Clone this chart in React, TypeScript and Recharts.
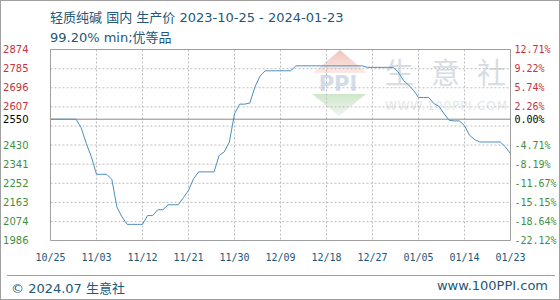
import React from "react";
import {
  LineChart,
  Line,
  XAxis,
  YAxis,
  CartesianGrid,
  ReferenceLine,
} from "recharts";

// daily producer price, 2023-10-25 .. 2024-01-23
const prices = [
  2550, 2550, 2550, 2550, 2550, 2550,
  2510, 2437, 2375, 2294, 2294, 2294,
  2270, 2141, 2095, 2061, 2061, 2061, 2061,
  2102, 2102, 2129, 2129, 2152, 2152, 2152,
  2185, 2219, 2274, 2305, 2305, 2305, 2305,
  2382, 2398, 2444, 2575, 2620, 2620, 2625,
  2700, 2750, 2775, 2775, 2775, 2775, 2775, 2775,
  2798, 2798, 2798, 2798, 2798, 2798, 2798, 2798, 2798, 2798, 2798, 2798, 2798, 2798,
  2791, 2791, 2791, 2791, 2791, 2791,
  2771, 2732, 2710, 2685, 2651, 2651, 2651,
  2623, 2610, 2575, 2545, 2542, 2542,
  2520, 2475, 2455, 2444, 2444, 2444, 2444, 2444,
  2421, 2390,
];

const xTickDays = [0, 9, 18, 27, 36, 45, 54, 63, 72, 81, 90];
const xTickLabels = ["10/25", "11/03", "11/12", "11/21", "11/30", "12/09", "12/18", "12/27", "01/05", "01/14", "01/23"];

const baseValue = 2550;
const leftTicks = [1986, 2074, 2163, 2252, 2341, 2430, 2550, 2607, 2696, 2785, 2874];
const rightLabels = ["-22.12%", "-18.64%", "-15.15%", "-11.67%", "-8.19%", "-4.71%", "0.00%", "2.26%", "5.74%", "9.22%", "12.71%"];
const gridValues = [2074, 2163, 2252, 2341, 2430, 2518, 2607, 2696, 2785];

const data = prices.map((price, day) => ({ day, price }));

const RED = "#c8323c";
const GREEN = "#3f8f3f";
const BLUE_TEXT = "#22577a";
const BORDER = "#a0a0a0";
const GRID = "#bdbdbd";
const PLOT_W = 460;

const tickColor = (v: number) => (v > baseValue ? RED : v < baseValue ? GREEN : "#000");

// left tick also draws the matching percent label on the right side of the plot
function DualTick(props: any) {
  const { x, y, payload } = props;
  const i = leftTicks.indexOf(payload.value);
  const fill = tickColor(payload.value);
  return (
    <g>
      <text x={x} y={y} textAnchor="end" dominantBaseline="central" fill={fill} fontSize={10} fontFamily="DejaVu Sans">
        {payload.value}
      </text>
      <text x={x + 22 + PLOT_W + 4} y={y} textAnchor="start" dominantBaseline="central" fill={fill} fontSize={10} fontFamily="DejaVu Sans Mono">
        {rightLabels[i]}
      </text>
    </g>
  );
}

function XTick(props: any) {
  const { x, y, payload } = props;
  const i = xTickDays.indexOf(payload.value);
  return (
    <text x={x} y={y + 7} textAnchor="middle" dominantBaseline="central" fill={BLUE_TEXT} fontSize={10} fontFamily="DejaVu Sans Mono">
      {xTickLabels[i]}
    </text>
  );
}

const textFont = '"DejaVu Sans", "Noto Sans CJK SC", sans-serif';

export default function App() {
  return (
    <div
      style={{
        position: "relative",
        width: 560,
        height: 300,
        boxSizing: "border-box",
        border: `1px solid ${BORDER}`,
        background: "#fff",
        fontFamily: textFont,
        overflow: "hidden",
      }}
    >
      <style>{"body{margin:0}"}</style>

      {/* watermark */}
      <svg width={560} height={300} style={{ position: "absolute", left: -1, top: -1 }}>
        <defs>
          <linearGradient id="roof" x1="0" y1="0" x2="0" y2="1">
            <stop offset="0" stopColor="#f2c4bc" />
            <stop offset="1" stopColor="#fbe9e5" />
          </linearGradient>
          <linearGradient id="base" x1="0" y1="0" x2="0" y2="1">
            <stop offset="0" stopColor="#cfe6cd" />
            <stop offset="1" stopColor="#eef7ee" />
          </linearGradient>
        </defs>
        <polygon points="313,73 340,50 367,73" fill="url(#roof)" />
        <text x={338} y={91} textAnchor="middle" fontSize={21} fontWeight="bold" fill="#d3dce7" fontFamily="DejaVu Sans">
          PPI
        </text>
        <polygon points="312,94 366,94 339,116" fill="url(#base)" />
        <g fontSize={29} fill="#d8dde3" fontFamily="Noto Sans CJK SC">
          <text x={385} y={84}>生</text>
          <text x={431} y={84}>意</text>
          <text x={477} y={84}>社</text>
        </g>
        <text x={385} y={110} fontSize={12} textLength={122} fill="#e3e6e9" fontFamily="DejaVu Sans">
          WWW.100PPI.COM
        </text>
      </svg>

      <div style={{ position: "absolute", left: 49, top: 6, fontSize: 13, color: BLUE_TEXT, whiteSpace: "nowrap" }}>
        轻质纯碱 国内 生产价 2023-10-25 - 2024-01-23
      </div>
      <div style={{ position: "absolute", left: 49, top: 26, fontSize: 13, color: BLUE_TEXT, whiteSpace: "nowrap" }}>
        99.20% min;优等品
      </div>

      <div style={{ position: "absolute", left: -1, top: -1 }}>
        <LineChart width={560} height={300} data={data} margin={{ top: 49.5, right: 49.5, bottom: 39.5, left: 5.5 }}>
          <CartesianGrid yAxisId="left" horizontal={false} stroke={GRID} strokeDasharray="2 2" />
          {gridValues.map((v) => (
            <ReferenceLine key={v} y={v} yAxisId="left" stroke={GRID} strokeDasharray="2 2" />
          ))}
          <ReferenceLine y={2874} yAxisId="left" stroke={BORDER} />
          <ReferenceLine x={90} yAxisId="left" stroke={BORDER} />
          <ReferenceLine y={baseValue} yAxisId="left" stroke="#8a8a8a" />
          <XAxis
            dataKey="day"
            type="number"
            domain={[0, 90]}
            ticks={xTickDays}
            interval={0}
            height={20}
            tickSize={0}
            tickMargin={10}
            tick={<XTick />}
            axisLine={{ stroke: BORDER }}
          />
          <YAxis
            yAxisId="left"
            domain={[1986, 2874]}
            ticks={leftTicks}
            interval={0}
            width={45}
            tickSize={0}
            tickMargin={22}
            tick={<DualTick />}
            axisLine={{ stroke: BORDER }}
          />
          <Line
            yAxisId="left"
            type="linear"
            dataKey="price"
            stroke="#4a8fc0"
            strokeWidth={1}
            dot={false}
            isAnimationActive={false}
          />
        </LineChart>
      </div>

      <div style={{ position: "absolute", left: 6, right: 4, top: 274, borderTop: `1px solid ${BORDER}` }} />
      <div style={{ position: "absolute", left: 10, top: 277, fontSize: 13, color: BLUE_TEXT, whiteSpace: "nowrap" }}>
        © 2024.07 生意社
      </div>
      <div style={{ position: "absolute", right: 11, top: 277, fontSize: 13, color: BLUE_TEXT, whiteSpace: "nowrap" }}>
        www.100PPI.com
      </div>
    </div>
  );
}
